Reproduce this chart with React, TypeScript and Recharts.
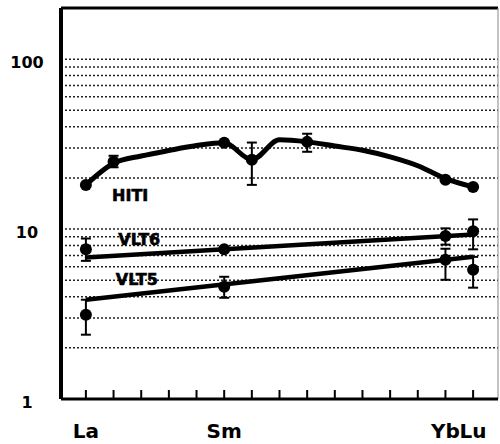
import {
  ComposedChart,
  ErrorBar,
  Line,
  ReferenceDot,
  ReferenceLine,
  Scatter,
  XAxis,
  YAxis,
} from "recharts";

// rare earth elements along the x axis
const elements = ["La", "Ce", "Pr", "Nd", "Pm", "Sm", "Eu", "Gd", "Tb", "Dy", "Ho", "Er", "Tm", "Yb", "Lu"];
const shownLabels = ["La", "Sm", "Yb", "Lu"];
const yTicks = [1, 10, 100];
const gridValues = [2, 3, 4, 5, 6, 7, 8, 9, 10, 20, 30, 40, 50, 60, 70, 80, 90, 100];

// fitted curves (chondrite normalised)
const hitiCurve = [18.2, 24.4, 26.9, 29.0, 31.0, 32.2, 25.6, 33.5, 32.6, 30.8, 29.1, 26.6, 23.6, 19.8, 17.7];
const vlt6Curve = [6.8, null, null, null, null, null, null, null, null, null, null, null, null, null, 9.3];
const vlt5Curve = [3.84, null, null, null, null, null, null, null, null, null, null, null, null, null, 6.87];

// measured points
const hitiAt = ["La", "Ce", "Sm", "Eu", "Tb", "Yb", "Lu"];
const hitiValues = [18.2, 24.9, 32.2, 25.6, 32.6, 19.5, 17.7];
const hitiErrLow = [0, 1.8, 0, 7.4, 4.1, 0, 0];
const hitiErrHigh = [0, 2.1, 0, 6.7, 3.8, 0, 0];

const vlt6At = ["La", "Sm", "Yb", "Lu"];
const vlt6Values = [7.6, 7.6, 9.1, 9.7];
const vlt6ErrLow = [1.1, 0, 1.0, 2.1];
const vlt6ErrHigh = [1.2, 0, 1.0, 1.7];

const vlt5At = ["La", "Sm", "Yb", "Lu"];
const vlt5Values = [3.13, 4.58, 6.6, 5.76];
const vlt5ErrLow = [0.74, 0.64, 1.57, 1.24];
const vlt5ErrHigh = [0.71, 0.66, 1.06, 1.1];

const curves = elements.map((el, i) => ({
  x: i,
  hiti: hitiCurve[i],
  vlt6: vlt6Curve[i],
  vlt5: vlt5Curve[i],
}));

const points = (at: string[], vals: number[], lo: number[], hi: number[]) =>
  at.map((el, i) => ({ x: elements.indexOf(el), y: vals[i], err: [lo[i], hi[i]] }));

const hitiPts = points(hitiAt, hitiValues, hitiErrLow, hitiErrHigh);
const vlt6Pts = points(vlt6At, vlt6Values, vlt6ErrLow, vlt6ErrHigh);
const vlt5Pts = points(vlt5At, vlt5Values, vlt5ErrLow, vlt5ErrHigh);

const font = "DejaVu Sans, Verdana, sans-serif";

function XTick({ x, y, payload }: any) {
  const name = elements[payload.value];
  return (
    <g>
      <line x1={x} x2={x} y1={y - 9} y2={y} stroke="#000" strokeWidth={2} />
      {shownLabels.includes(name) && (
        <text x={x} y={y + 39} textAnchor="middle" fontFamily={font} fontWeight="bold" fontSize={20} fill="#000">
          {name}
        </text>
      )}
    </g>
  );
}

function YTick({ x, y, payload }: any) {
  return (
    <text x={x - 34} y={y + 9} textAnchor="middle" fontFamily={font} fontWeight="bold" fontSize={16} fill="#000">
      {payload.value}
    </text>
  );
}

const dotShape = (p: any) => <circle cx={p.cx} cy={p.cy} r={6} fill="#000" />;

const labelStyle = {
  position: "center" as const,
  fill: "#000",
  stroke: "#000",
  strokeWidth: 0.6,
  fontSize: 16,
  fontWeight: "bold",
  fontFamily: font,
};

export default function App() {
  return (
    <div style={{ position: "absolute", left: 0, top: 0, background: "#fff" }}>
      <ComposedChart width={500} height={444} data={curves} margin={{ top: 8, right: 2, left: 0, bottom: 0 }}>
        {gridValues.map((v) => (
          <ReferenceLine key={v} y={v} stroke="#222" strokeWidth={1.5} strokeDasharray="2 2" ifOverflow="visible" />
        ))}
        <ReferenceLine y={200} stroke="#000" strokeWidth={3} ifOverflow="visible" />
        <ReferenceLine x={14.9} stroke="#888" strokeWidth={1} ifOverflow="visible" />
        <XAxis
          type="number"
          dataKey="x"
          domain={[-0.9, 14.9]}
          ticks={elements.map((_, i) => i)}
          interval={0}
          allowDataOverflow
          height={45}
          tickSize={0}
          tickMargin={0}
          tickLine={false}
          axisLine={{ stroke: "#000", strokeWidth: 3 }}
          tick={<XTick />}
        />
        <YAxis
          type="number"
          dataKey="y"
          scale="log"
          domain={[1, 200]}
          ticks={yTicks}
          allowDataOverflow
          width={61}
          tickSize={0}
          tickMargin={0}
          tickLine={false}
          axisLine={{ stroke: "#000", strokeWidth: 4 }}
          tick={<YTick />}
        />
        <Line type="monotone" dataKey="hiti" stroke="#000" strokeWidth={5} dot={false} activeDot={false} isAnimationActive={false} />
        <Line type="linear" dataKey="vlt6" stroke="#000" strokeWidth={4.5} dot={false} activeDot={false} connectNulls isAnimationActive={false} />
        <Line type="linear" dataKey="vlt5" stroke="#000" strokeWidth={4.5} dot={false} activeDot={false} connectNulls isAnimationActive={false} />
        <Scatter data={hitiPts} dataKey="y" shape={dotShape} isAnimationActive={false}>
          <ErrorBar dataKey="err" direction="y" width={5} stroke="#000" strokeWidth={2} />
        </Scatter>
        <Scatter data={vlt6Pts} dataKey="y" shape={dotShape} isAnimationActive={false}>
          <ErrorBar dataKey="err" direction="y" width={5} stroke="#000" strokeWidth={2} />
        </Scatter>
        <Scatter data={vlt5Pts} dataKey="y" shape={dotShape} isAnimationActive={false}>
          <ErrorBar dataKey="err" direction="y" width={5} stroke="#000" strokeWidth={2} />
        </Scatter>
        <ReferenceDot x={1.6} y={15.9} r={0} ifOverflow="visible" label={{ value: "HITI", ...labelStyle }} />
        <ReferenceDot x={1.93} y={8.71} r={0} ifOverflow="visible" label={{ value: "VLT6", ...labelStyle }} />
        <ReferenceDot x={1.84} y={5.03} r={0} ifOverflow="visible" label={{ value: "VLT5", ...labelStyle }} />
      </ComposedChart>
    </div>
  );
}
